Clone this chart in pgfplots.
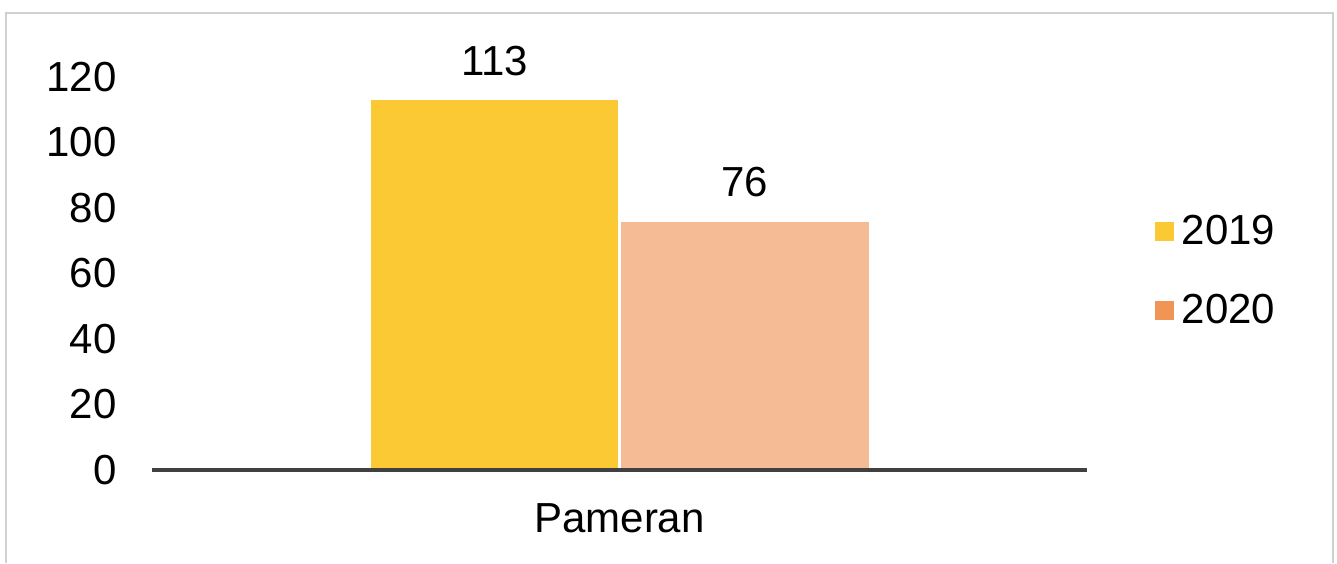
\documentclass[border=0pt]{standalone}
\usepackage{fontspec}
\setmainfont{Liberation Sans}
\usepackage{pgfplots}
\pgfplotsset{compat=1.18}

\definecolor{bar19}{HTML}{FBC934}
\definecolor{bar20}{HTML}{F4BB94}
\definecolor{leg20}{HTML}{F19556}
\definecolor{axisgray}{HTML}{404040}
\definecolor{framegray}{HTML}{D0D0D0}

\newcommand{\chartfont}{\fontsize{21}{25}\selectfont}

\begin{document}
\begin{tikzpicture}
\useasboundingbox (0,0) rectangle (668.5pt,-281.5pt);
% outer frame (bottom edge is cut off in the reference)
\draw[framegray, line width=1pt] (3pt,-281.5pt) -- (3pt,-6.5pt) -- (666.5pt,-6.5pt) -- (666.5pt,-281.5pt);

\begin{axis}[
    at={(76pt,-235pt)}, anchor=south west,
    scale only axis,
    width=467.5pt, height=196.5pt,
    ybar,
    xmin=-0.5, xmax=0.5,
    ymin=0, ymax=120,
    ytick={0,20,...,120},
    xtick={0}, xticklabels={Pameran},
    axis x line*=bottom,
    axis y line*=left,
    y axis line style={draw=none},
    x axis line style={axisgray, line width=1.75pt, -},
    axis on top,
    major tick length=0pt,
    tick label style={font=\chartfont},
    /pgf/number format/assume math mode=true,
    yticklabel style={anchor=east, inner sep=0pt, xshift=-17.5pt},
    xticklabel style={anchor=center, inner sep=0pt, yshift=-24pt},
    bar width=0.2663,
    nodes near coords,
    nodes near coords style={font=\chartfont, anchor=center, yshift=19.5pt, /pgf/number format/assume math mode=true},
    legend style={
        draw=none, fill=none, font=\chartfont,
        at={(1.0727,0.5064)}, anchor=west,
        inner sep=0pt, row sep=19.5pt,
        cells={anchor=west},
    },
    clip=false,
]
\addplot[fill=bar19, draw=white, line width=0.5pt, bar shift=-0.1337,
    legend image code/.code={\fill[bar19] (0pt,-4.5pt) rectangle (9pt,4.5pt); \path[draw=none, fill=none] (9pt,0pt) -- (11pt,0pt);}]
    coordinates {(0,113)};
\addplot[fill=bar20, draw=white, line width=0.5pt, bar shift=0.1342,
    legend image code/.code={\fill[leg20] (0pt,-4.5pt) rectangle (9pt,4.5pt); \path[draw=none, fill=none] (9pt,0pt) -- (11pt,0pt);}]
    coordinates {(0,76)};
\legend{2019, 2020}
\end{axis}
\end{tikzpicture}
\end{document}
